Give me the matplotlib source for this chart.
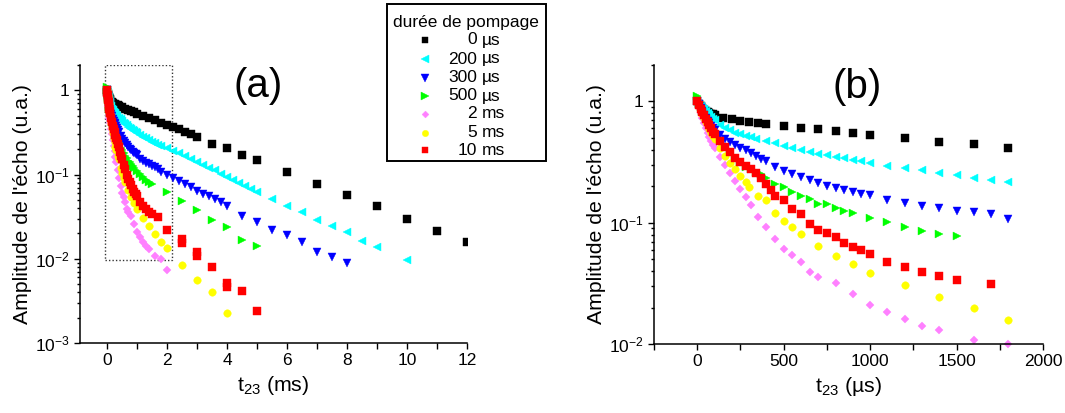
import numpy as np
import matplotlib.pyplot as plt
from matplotlib.patches import Rectangle
from matplotlib.lines import Line2D
from matplotlib.ticker import FixedLocator, MultipleLocator, LogLocator, NullFormatter

plt.rcParams['font.family'] = ['Liberation Sans', 'DejaVu Sans']
plt.rcParams['mathtext.fontset'] = 'custom'
plt.rcParams['mathtext.rm'] = 'Liberation Sans'
plt.rcParams['mathtext.default'] = 'regular'

# legend entries (pumping duration)
num_labels = ['0', '200', '300', '500', '2', '5', '10']
unit_labels = ['µs', 'µs', 'µs', 'µs', 'ms', 'ms', 'ms']

# short times, in µs (panel b, also start of panel a)
t_black_us = [0, 10, 20, 30, 40, 50, 60, 70, 80, 90, 100, 150, 200, 250, 300, 350, 400,
              500, 600, 700, 800, 900, 1000, 1200, 1400, 1600, 1800]
a_black_us = [1.0, 0.95, 0.91, 0.88, 0.855, 0.835, 0.82, 0.805, 0.795, 0.785, 0.775, 0.737,
              0.714, 0.692, 0.679, 0.67, 0.658, 0.629, 0.605, 0.59, 0.572, 0.547, 0.53,
              0.497, 0.467, 0.444, 0.411]

t_cyan_us = [0, 10, 20, 30, 40, 50, 60, 70, 80, 90, 100, 130, 160, 190, 220, 250, 280, 310, 340,
             400, 450, 500, 550, 600, 650, 700, 750, 800, 850, 900, 950, 1000,
             1100, 1200, 1300, 1400, 1500, 1600, 1700, 1800]
a_cyan_us = [1.0, 0.96, 0.92, 0.89, 0.86, 0.83, 0.80, 0.77, 0.745, 0.72, 0.70,
             0.645, 0.605, 0.578, 0.555, 0.535, 0.52, 0.505, 0.49,
             0.472, 0.452, 0.43, 0.414, 0.398, 0.383, 0.371, 0.36, 0.351, 0.34, 0.329, 0.321, 0.311,
             0.295, 0.281, 0.27, 0.255, 0.246, 0.235, 0.226, 0.218]

t_blue_us = [0, 10, 20, 30, 40, 50, 60, 70, 80, 90, 100, 130, 160, 190, 220, 250, 280, 310, 340,
             370, 400, 450, 500, 550, 600, 650, 700, 750, 800, 850, 900, 950, 1000,
             1100, 1200, 1300, 1400, 1500, 1600, 1700, 1800]
a_blue_us = [1.0, 0.95, 0.89, 0.83, 0.78, 0.73, 0.69, 0.66, 0.63, 0.60, 0.58,
             0.53, 0.49, 0.46, 0.435, 0.415, 0.395, 0.375, 0.355,
             0.338, 0.323, 0.288, 0.267, 0.25, 0.239, 0.225, 0.214, 0.2, 0.195, 0.185, 0.179, 0.174, 0.169,
             0.153, 0.146, 0.137, 0.133, 0.126, 0.122, 0.117, 0.108]

t_green_us = [0, 10, 20, 30, 40, 50, 60, 70, 80, 90, 100, 130, 160, 190, 220, 250, 280, 310, 340,
              370, 400, 450, 500, 550, 600, 650, 700, 750, 800, 850, 900,
              1000, 1100, 1200, 1300, 1400, 1500]
a_green_us = [1.1, 0.97, 0.90, 0.84, 0.78, 0.73, 0.68, 0.64, 0.60, 0.57, 0.54,
              0.47, 0.42, 0.375, 0.34, 0.312, 0.29, 0.275, 0.262,
              0.25, 0.235, 0.208, 0.197, 0.18, 0.166, 0.158, 0.144, 0.142, 0.133, 0.125, 0.121,
              0.11, 0.101, 0.0924, 0.0861, 0.0813, 0.0773]

t_pink_us = [0, 10, 20, 30, 40, 50, 60, 70, 80, 90, 100, 130, 160, 190, 220, 250, 280, 310,
             350, 400, 450, 500, 550, 600, 650, 700, 800, 900, 1000, 1100, 1200, 1300, 1400,
             1600, 1800]
a_pink_us = [0.98, 0.88, 0.80, 0.73, 0.66, 0.60, 0.55, 0.51, 0.47, 0.44, 0.41,
             0.35, 0.30, 0.255, 0.22, 0.19, 0.162, 0.14,
             0.112, 0.092, 0.0735, 0.0607, 0.0538, 0.0471, 0.0389, 0.036,
             0.0318, 0.0259, 0.021, 0.0183, 0.016, 0.0141, 0.0131, 0.0107, 0.0100]

t_yellow_us = [0, 10, 20, 30, 40, 50, 60, 70, 80, 90, 100, 130, 160, 190, 220, 250, 280,
               300, 350, 400, 450, 500, 550, 600, 700, 800, 900, 1000, 1200, 1400, 1600, 1800]
a_yellow_us = [1.0, 0.92, 0.85, 0.79, 0.73, 0.68, 0.635, 0.595, 0.555, 0.52, 0.49,
               0.41, 0.355, 0.31, 0.275, 0.245, 0.215,
               0.198, 0.166, 0.155, 0.121, 0.104, 0.092, 0.0813,
               0.0647, 0.0535, 0.0456, 0.0385, 0.0304, 0.0243, 0.0197, 0.0158]

t_red_us = [0, 10, 20, 30, 40, 50, 60, 70, 80, 90, 100, 130, 160, 190, 220, 250, 280, 310, 340,
            370, 400, 425, 450, 500, 550, 600, 650, 700, 750, 800, 850, 900, 950, 1000,
            1100, 1200, 1300, 1400, 1500, 1700]
a_red_us = [1.0, 0.93, 0.87, 0.82, 0.77, 0.72, 0.68, 0.64, 0.60, 0.565, 0.535,
            0.47, 0.42, 0.38, 0.345, 0.318, 0.295, 0.275, 0.255,
            0.232, 0.21, 0.185, 0.166, 0.155, 0.13, 0.118, 0.0984, 0.0878, 0.0823, 0.0759,
            0.0683, 0.0627, 0.0591, 0.0552,
            0.0477, 0.0428, 0.0392, 0.0361, 0.0337, 0.031]

# long times, in ms (panel a only)
t_black_ms = [2.0, 2.2, 2.4, 2.6, 2.8, 3.0, 3.5, 4, 4.5, 5, 6, 7, 8, 9, 10, 11, 12]
a_black_ms = [0.39, 0.37, 0.345, 0.32, 0.30, 0.28, 0.233, 0.207, 0.172, 0.15, 0.107, 0.078,
              0.057, 0.042, 0.0297, 0.0212, 0.0157]
t_cyan_ms = [2.0, 2.2, 2.4, 2.6, 2.8, 3.0, 3.2, 3.4, 3.6, 3.8, 4.0, 4.2, 4.4, 4.6, 4.8, 5.0,
             5.5, 6, 6.5, 7, 7.5, 8, 8.5, 9, 10]
a_cyan_ms = [0.205, 0.19, 0.178, 0.166, 0.153, 0.141, 0.131, 0.121, 0.112, 0.102, 0.094, 0.087,
             0.080, 0.073, 0.067, 0.0615, 0.0518, 0.042, 0.0356, 0.0292, 0.0243, 0.0206,
             0.0161, 0.0137, 0.0098]
t_blue_ms = [2.0, 2.2, 2.4, 2.6, 2.8, 3.0, 3.2, 3.4, 3.6, 3.8, 4.0, 4.5, 5, 5.5, 6, 6.5, 7, 7.5, 8]
a_blue_ms = [0.098, 0.092, 0.085, 0.078, 0.071, 0.064, 0.059, 0.055, 0.051, 0.047, 0.0428,
             0.0325, 0.0271, 0.0222, 0.0194, 0.0157, 0.0122, 0.0105, 0.0088]
t_green_ms = [2, 2.5, 3, 3.5, 4, 4.5, 5]
a_green_ms = [0.062, 0.049, 0.0376, 0.0292, 0.0236, 0.0169, 0.0143]
t_pink_ms = [2.0]
a_pink_ms = [0.0074]
t_yellow_ms = [2, 2.5, 3, 3.5, 4]
a_yellow_ms = [0.0133, 0.0085, 0.00565, 0.004, 0.00227]
t_red_ms = [2, 2.5, 2.5, 3, 3, 3.5, 4, 4, 4.5, 5]
a_red_ms = [0.0218, 0.0172, 0.0155, 0.0122, 0.0108, 0.0079, 0.0052, 0.0046, 0.0041, 0.00238]

series = [
    (t_black_us, a_black_us, t_black_ms, a_black_ms, '#000000', 's', 5.2),
    (t_cyan_us, a_cyan_us, t_cyan_ms, a_cyan_ms, '#00FFFF', '<', 6.0),
    (t_blue_us, a_blue_us, t_blue_ms, a_blue_ms, '#0000FF', 'v', 6.0),
    (t_green_us, a_green_us, t_green_ms, a_green_ms, '#00FF00', '>', 6.0),
    (t_pink_us, a_pink_us, t_pink_ms, a_pink_ms, '#FF80FF', 'D', 4.1),
    (t_yellow_us, a_yellow_us, t_yellow_ms, a_yellow_ms, '#FFFF00', 'o', 5.4),
    (t_red_us, a_red_us, t_red_ms, a_red_ms, '#FF0000', 's', 5.5),
]

W, H = 1065, 413


def fx(px):
    return px / W


def fy(py):
    return 1 - py / H


fig = plt.figure(figsize=(W / 100, H / 100), dpi=100)
ax_a = fig.add_axes([fx(80), fy(343), fx(467) - fx(80), fy(65) - fy(343)])
ax_b = fig.add_axes([fx(654), fy(344), fx(1043) - fx(654), fy(65) - fy(344)])

for t_us, a_us, t_ms, a_ms, col, mk, ms in series:
    t_a = [t / 1000 for t in t_us] + list(t_ms)
    a_a = list(a_us) + list(a_ms)
    ax_a.plot(t_a, a_a, ls='none', marker=mk, ms=ms, color=col, mec=col, mew=0.3)
    ax_b.plot(t_us, a_us, ls='none', marker=mk, ms=ms, color=col, mec=col, mew=0.3, clip_on=False)

# dotted zoom box on (a)
ax_a.add_patch(Rectangle((-0.08, 0.0097), 2.23, 2.0 - 0.0097, fill=False, ls=(0, (1, 1.5)),
                         lw=1.0, ec='#333333'))

for ax in (ax_a, ax_b):
    ax.set_yscale('log')
    for s in ('top', 'right'):
        ax.spines[s].set_visible(False)
    for s in ('left', 'bottom'):
        ax.spines[s].set_linewidth(1.1)
    ax.tick_params(which='both', direction='out', labelsize=12.5, width=1.0)
    ax.tick_params(which='major', length=4)
    ax.tick_params(axis='x', which='minor', length=4)
    ax.tick_params(axis='y', which='minor', length=2.5)
    ax.yaxis.set_minor_locator(LogLocator(base=10, subs=np.arange(2, 10)))
    ax.yaxis.set_minor_formatter(NullFormatter())
    ax.set_ylabel("Amplitude de l'écho (u.a.)", fontsize=15.3, labelpad=2)

ax_a.set_xlim(-0.9, 12)
ax_a.set_ylim(1e-3, 2)
ax_a.xaxis.set_major_locator(MultipleLocator(2))
ax_a.xaxis.set_minor_locator(MultipleLocator(1))
ax_a.yaxis.set_major_locator(FixedLocator([1e-3, 1e-2, 1e-1, 1]))
ax_a.set_yticklabels(['10$^{-3}$', '10$^{-2}$', '10$^{-1}$', '1'])
ax_a.set_xlabel('t$_{23}$ (ms)', fontsize=15.3, labelpad=4)

ax_b.set_xlim(-250, 2000)
ax_b.set_ylim(1e-2, 2)
ax_b.xaxis.set_major_locator(MultipleLocator(500))
ax_b.xaxis.set_minor_locator(MultipleLocator(250))
ax_b.yaxis.set_major_locator(FixedLocator([1e-2, 1e-1, 1]))
ax_b.set_yticklabels(['10$^{-2}$', '10$^{-1}$', '1'])
ax_b.set_xlabel('t$_{23}$ (µs)', fontsize=15.3, labelpad=4)

fig.text(fx(258), fy(86), '(a)', fontsize=29, ha='center', va='center')
fig.text(fx(857), fy(87), '(b)', fontsize=29, ha='center', va='center')

# legend box drawn by hand (right-aligned numbers)
fig.add_artist(Rectangle((fx(387), fy(161)), fx(546) - fx(387), fy(4) - fy(161),
                         transform=fig.transFigure, fill=True, fc='white', ec='black', lw=1.4))
fig.text(fx(466), fy(22), 'durée de pompage', fontsize=12.5, ha='center', va='center')
row_y = [40, 59, 77.5, 96, 114, 132.5, 150.5]
for (t_us, a_us, t_ms, a_ms, col, mk, ms), num, unit, yy in zip(series, num_labels, unit_labels, row_y):
    fig.add_artist(Line2D([fx(425)], [fy(yy)], transform=fig.transFigure, ls='none',
                          marker=mk, ms=ms * 0.85, color=col, mec=col, mew=0.3))
    fig.text(fx(477), fy(yy), num, fontsize=12.5, ha='right', va='center')
    fig.text(fx(482), fy(yy), unit, fontsize=12.5, ha='left', va='center')

fig.savefig('out.png', dpi=100)
